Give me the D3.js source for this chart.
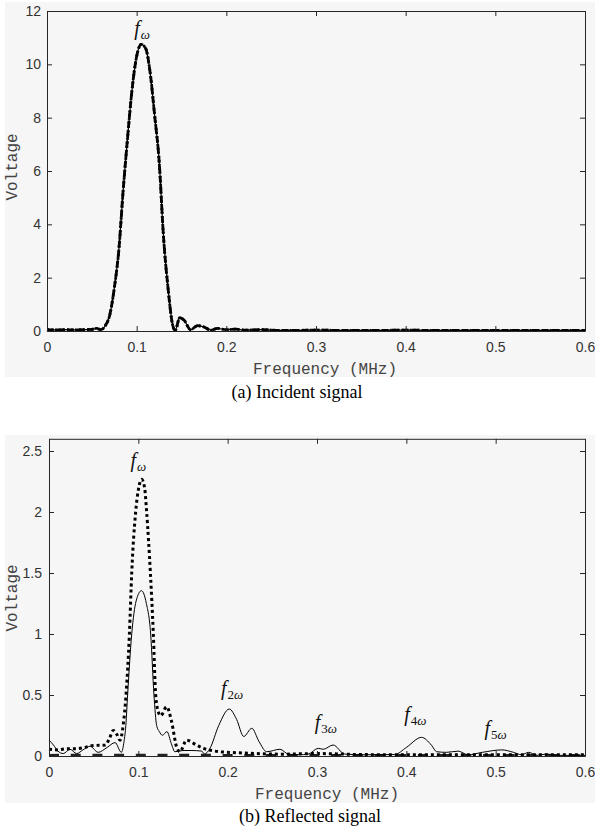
<!DOCTYPE html>
<html>
<head>
<meta charset="utf-8">
<script src="https://cdn.jsdelivr.net/npm/d3@7"></script>
<style>
  html, body { margin: 0; padding: 0; background: #ffffff; }
  svg { display: block; }
</style>
</head>
<body>
<svg id="fig" width="595" height="836"></svg>
<script>
// ---------------- DATA ----------------
const xTicks = [0, 0.1, 0.2, 0.3, 0.4, 0.5, 0.6];
const xTickLabels = ["0", "0.1", "0.2", "0.3", "0.4", "0.5", "0.6"];
const yTicksTop = [0, 2, 4, 6, 8, 10, 12];
const yTickLabelsTop = ["0", "2", "4", "6", "8", "10", "12"];
const yTicksBottom = [0, 0.5, 1, 1.5, 2, 2.5];
const yTickLabelsBottom = ["0", "0.5", "1", "1.5", "2", "2.5"];

// (a) Incident signal
const incFreq = [0, 0.01, 0.02, 0.03, 0.04, 0.05, 0.055, 0.06, 0.065, 0.07, 0.075, 0.08, 0.085, 0.09, 0.095, 0.1, 0.105, 0.11, 0.115, 0.12, 0.125, 0.13, 0.135, 0.14, 0.143, 0.148, 0.153, 0.16, 0.168, 0.175, 0.183, 0.19, 0.2, 0.21, 0.22, 0.24, 0.26, 0.3, 0.35, 0.4, 0.45, 0.5, 0.55, 0.6];
const incVolt = [0.05, 0.04, 0.05, 0.04, 0.05, 0.06, 0.1, 0.05, 0.2, 0.6, 1.6, 3.0, 5.3, 7.3, 9.1, 10.3, 10.75, 10.6, 9.7, 8.1, 6.4, 3.5, 1.6, 0.25, 0.02, 0.5, 0.4, 0.05, 0.2, 0.15, 0.03, 0.1, 0.05, 0.07, 0.03, 0.05, 0.02, 0.03, 0.02, 0.03, 0.02, 0.02, 0.02, 0.02];

// (b) Reflected signal — solid series
const solFreq = [0, 0.005, 0.01, 0.016, 0.0235, 0.031, 0.038, 0.046, 0.055, 0.065, 0.074, 0.081, 0.084, 0.086, 0.088, 0.0926, 0.0975, 0.1035, 0.109, 0.1138, 0.1175, 0.1205, 0.1235, 0.127, 0.132, 0.137, 0.141, 0.15, 0.16, 0.171, 0.174, 0.18, 0.19, 0.2018, 0.21, 0.218, 0.227, 0.235, 0.2437, 0.2586, 0.268, 0.28, 0.29, 0.3015, 0.307, 0.318, 0.331, 0.35, 0.387, 0.4, 0.417, 0.428, 0.434, 0.445, 0.458, 0.469, 0.485, 0.507, 0.52, 0.529, 0.537, 0.546, 0.557, 0.568, 0.6];
const solVolt = [0.13, 0.09, 0.04, 0.02, 0.055, 0.02, 0.05, 0.08, 0.03, 0.07, 0.11, 0.03, 0.12, 0.25, 0.5, 1.0, 1.27, 1.355, 1.25, 1.0, 0.5, 0.25, 0.2, 0.17, 0.2, 0.1, 0.035, 0.045, 0.045, 0.04, 0.016, 0.06, 0.25, 0.385, 0.3, 0.16, 0.227, 0.12, 0.035, 0.055, 0.015, 0.01, 0.015, 0.063, 0.055, 0.09, 0.016, 0.01, 0.012, 0.07, 0.153, 0.09, 0.035, 0.03, 0.04, 0.01, 0.03, 0.05, 0.03, 0.01, 0.03, 0.005, 0.017, 0.005, 0.005];

// (b) Reflected signal — dotted series
const dotFreq = [0, 0.01, 0.02, 0.03, 0.04, 0.048, 0.063, 0.068, 0.072, 0.0765, 0.0795, 0.083, 0.0862, 0.09, 0.0926, 0.097, 0.1, 0.1037, 0.107, 0.1093, 0.1135, 0.1168, 0.1194, 0.1224, 0.125, 0.1317, 0.137, 0.143, 0.1466, 0.154, 0.165, 0.173, 0.191, 0.21, 0.232, 0.26, 0.3, 0.35, 0.4, 0.5, 0.6];
const dotVolt = [0.055, 0.05, 0.06, 0.06, 0.07, 0.085, 0.09, 0.15, 0.21, 0.17, 0.13, 0.25, 0.5, 1.0, 1.5, 2.0, 2.18, 2.268, 2.2, 2.0, 1.5, 1.0, 0.5, 0.36, 0.33, 0.404, 0.29, 0.07, 0.035, 0.13, 0.09, 0.063, 0.035, 0.027, 0.02, 0.015, 0.02, 0.012, 0.01, 0.01, 0.01];

// (b) Reflected signal — dashed series
const dashFreq = [0, 0.1, 0.2, 0.3, 0.4, 0.5, 0.6];
const dashVolt = [0.005, 0.006, 0.005, 0.004, 0.004, 0.004, 0.004];

// annotations
const annTop = [{f: 0.106, v: 11.1, sub: "ω"}];
const annBottom = [
  {f: 0.1, v: 2.37, sub: "ω"},
  {f: 0.205, v: 0.5, sub: "2ω"},
  {f: 0.31, v: 0.22, sub: "3ω"},
  {f: 0.41, v: 0.29, sub: "4ω"},
  {f: 0.5, v: 0.17, sub: "5ω"}
];

// ---------------- DRAW ----------------
const svg = d3.select("#fig");
const axisColor = "#262626";
const tickFont = "'Liberation Sans', Arial, Helvetica, sans-serif";
const monoFont = "'Liberation Mono', 'Courier New', monospace";
const serifFont = "'Liberation Serif', 'Times New Roman', serif";

function panel(cfg) {
  const g = svg.append("g");
  g.append("rect").attr("x", cfg.bg[0]).attr("y", cfg.bg[1])
    .attr("width", cfg.bg[2]).attr("height", cfg.bg[3]).attr("fill", "#f6f6f6");

  const x = d3.scaleLinear().domain([0, 0.6]).range([cfg.left, cfg.right]);
  const y = d3.scaleLinear().domain(cfg.ydom).range([cfg.bottom, cfg.top]);

  // data lines
  cfg.series.forEach(s => {
    const pts = s.f.map((f, i) => [f, s.v[i]]);
    const line = d3.line().x(d => x(d[0])).y(d => y(d[1])).curve(d3.curveMonotoneX);
    g.append("path").attr("d", line(pts)).attr("fill", "none")
      .attr("stroke", s.color || "#000").attr("stroke-width", s.w)
      .attr("stroke-dasharray", s.dash || null)
      .attr("stroke-linecap", "butt").attr("stroke-linejoin", "round");
  });

  // axes (ticks inside, box)
  const tl = 5;
  const xb = d3.axisBottom(x).tickValues(xTicks).tickFormat((d, i) => xTickLabels[i]).tickSizeInner(-tl).tickSizeOuter(0).tickPadding(11);
  const xt = d3.axisTop(x).tickValues(xTicks).tickFormat("").tickSizeInner(-tl).tickSizeOuter(0);
  const yl = d3.axisLeft(y).tickValues(cfg.yticks).tickFormat((d, i) => cfg.ylabels[i]).tickSizeInner(-tl).tickSizeOuter(0).tickPadding(cfg.ypad);
  const yr = d3.axisRight(y).tickValues(cfg.yticks).tickFormat("").tickSizeInner(-tl).tickSizeOuter(0);

  const gxb = g.append("g").attr("transform", `translate(0,${cfg.bottom})`).call(xb);
  const gxt = g.append("g").attr("transform", `translate(0,${cfg.top})`).call(xt);
  const gyl = g.append("g").attr("transform", `translate(${cfg.left},0)`).call(yl);
  const gyr = g.append("g").attr("transform", `translate(${cfg.right},0)`).call(yr);
  [gxb, gxt, gyl, gyr].forEach(a => {
    a.selectAll("path.domain").attr("stroke", axisColor).attr("stroke-width", 1);
    a.selectAll(".tick line").attr("stroke", axisColor).attr("stroke-width", 1);
    a.selectAll(".tick text").attr("fill", "#333")
      .style("font-family", tickFont).style("font-size", "14px");
  });
  gxb.selectAll(".tick text").attr("dy", "0.71em");

  // axis titles
  g.append("text").attr("x", cfg.xlabX).attr("y", cfg.xlabY)
    .attr("text-anchor", "middle").attr("fill", "#444")
    .style("font-family", monoFont).style("font-size", "16px")
    .text("Frequency (MHz)");
  g.append("text").attr("transform", `translate(${cfg.ylabX},${cfg.ylabY}) rotate(-90)`)
    .attr("text-anchor", "middle").attr("fill", "#444")
    .style("font-family", monoFont).style("font-size", "16px")
    .text("Voltage");

  // annotations
  cfg.ann.forEach(a => {
    const t = g.append("text").attr("x", x(a.f)).attr("y", y(a.v))
      .attr("text-anchor", "middle").attr("fill", "#111")
      .style("font-family", serifFont);
    t.append("tspan").style("font-style", "italic").style("font-size", "20px").text("f");
    const sub = t.append("tspan").attr("dy", "4").attr("dx", "1").style("font-size", "13px");
    if (a.sub.length > 1) {
      sub.append("tspan").text(a.sub[0]);
      sub.append("tspan").style("font-style", "italic").text(a.sub.slice(1));
    } else {
      sub.style("font-style", "italic").text(a.sub);
    }
  });

  // caption
  svg.append("text").attr("x", cfg.capX).attr("y", cfg.capY)
    .attr("text-anchor", "middle").attr("fill", "#000")
    .style("font-family", serifFont).style("font-size", "18px")
    .text(cfg.caption);
}

panel({
  bg: [5, 2, 590, 375],
  left: 47, right: 585, top: 11, bottom: 331,
  ydom: [0, 12], yticks: yTicksTop, ylabels: yTickLabelsTop, ypad: 6,
  series: [
    {f: incFreq, v: incVolt, w: 1.2},
    {f: incFreq, v: incVolt, w: 2.8, dash: "7,3"},
    {f: incFreq, v: incVolt, w: 2.8, dash: "2,2"}
  ],
  ann: annTop,
  xlabX: 325, xlabY: 374,
  ylabX: 17, ylabY: 167,
  caption: "(a) Incident signal", capX: 297, capY: 398
});

panel({
  bg: [5, 435, 590, 368],
  left: 49, right: 585, top: 438.8, bottom: 756,
  ydom: [0, 2.6], yticks: yTicksBottom, ylabels: yTickLabelsBottom, ypad: 7,
  series: [
    {f: dashFreq, v: dashVolt, w: 3, dash: "10,11.7", color: "#222"},
    {f: dotFreq, v: dotVolt, w: 3, dash: "3,3"},
    {f: solFreq, v: solVolt, w: 1}
  ],
  ann: annBottom,
  xlabX: 327, xlabY: 799,
  ylabX: 17, ylabY: 598,
  caption: "(b) Reflected signal", capX: 310, capY: 822
});
</script>
</body>
</html>
